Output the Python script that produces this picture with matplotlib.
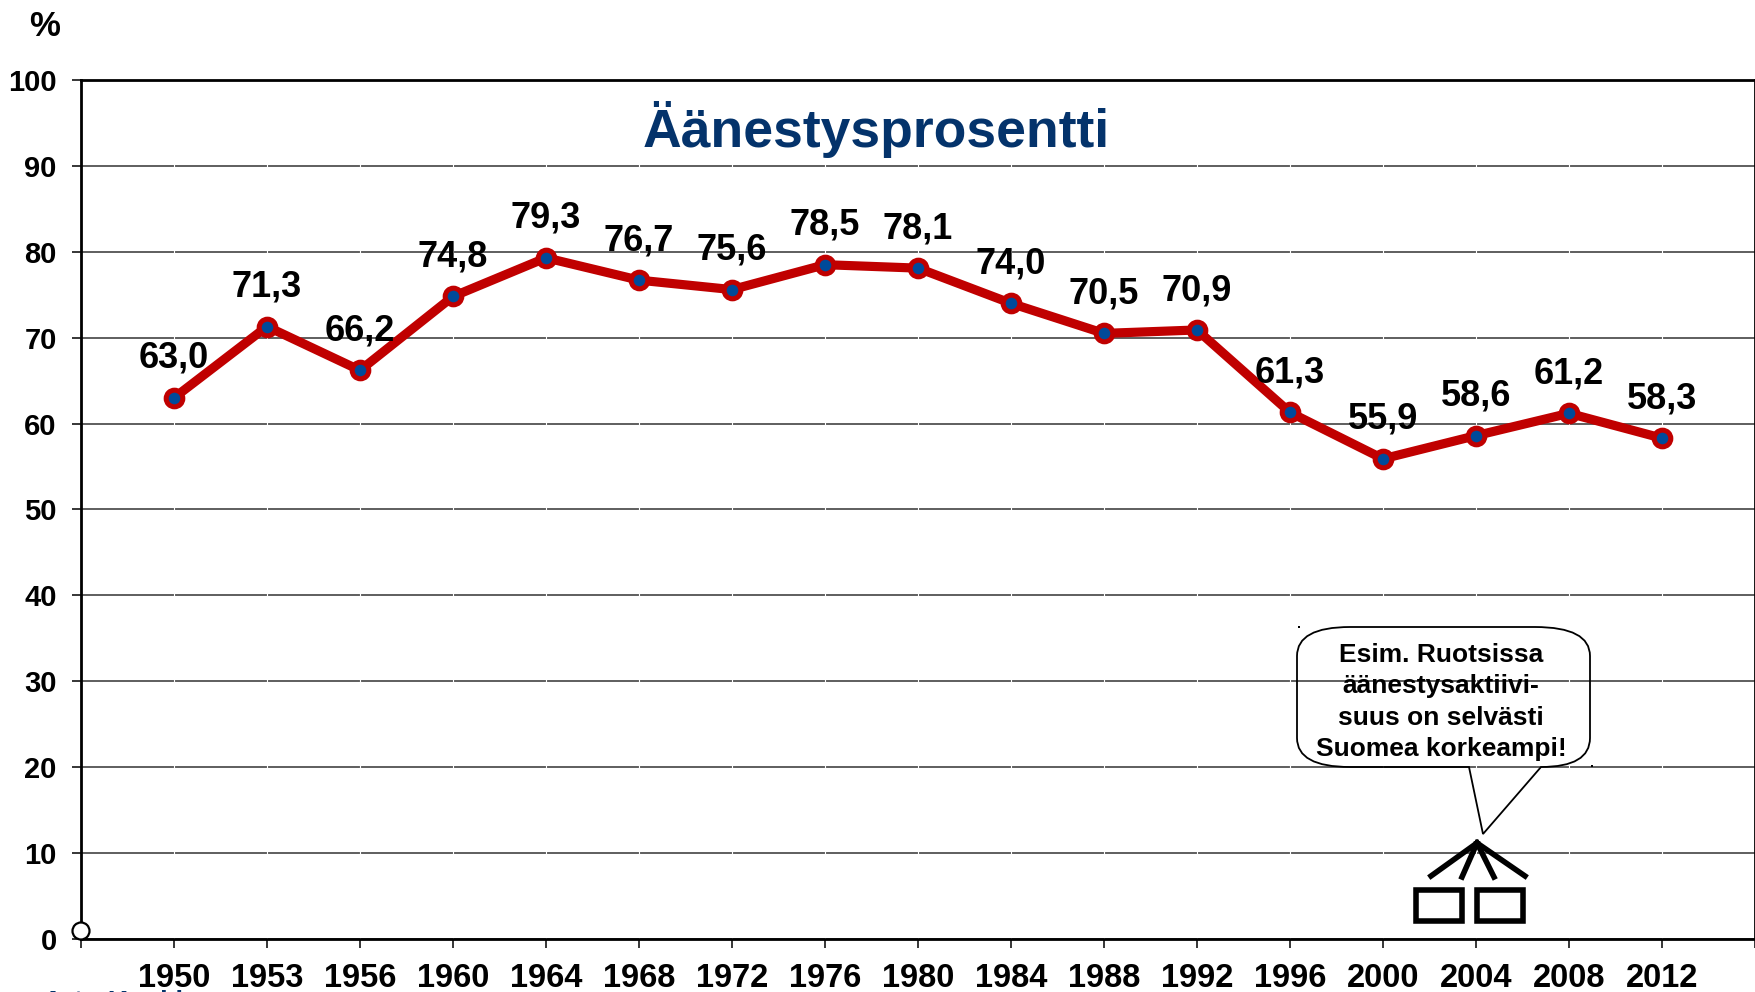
# -*- coding: utf-8 -*-
import matplotlib
matplotlib.use('Agg')
import matplotlib.pyplot as plt
from matplotlib.lines import Line2D
from matplotlib.patches import Ellipse, PathPatch, Rectangle
from matplotlib.path import Path

plt.rcParams['font.family'] = ['Liberation Sans', 'DejaVu Sans']
plt.rcParams['font.weight'] = 'bold'

years = ['1950', '1953', '1956', '1960', '1964', '1968', '1972', '1976', '1980',
         '1984', '1988', '1992', '1996', '2000', '2004', '2008', '2012']
turnout = [63.0, 71.3, 66.2, 74.8, 79.3, 76.7, 75.6, 78.5, 78.1,
           74.0, 70.5, 70.9, 61.3, 55.9, 58.6, 61.2, 58.3]
y_ticks = [0, 10, 20, 30, 40, 50, 60, 70, 80, 90, 100]

title = 'Äänestysprosentti'
note = 'Esim. Ruotsissa\näänestysaktiivi-\nsuus on selvästi\nSuomea korkeampi!'
author = 'Arto Koskinen'

W, H = 1756, 992
RED = '#C00000'
BLUE = '#004A9A'
NAVY = '#04336B'


def px(x, y):
    # reference pixels (origin top left) to figure fraction
    return x / W, 1 - y / H


fig = plt.figure(figsize=(W / 100, H / 100), dpi=100)
ax = fig.add_axes([81 / W, 1 - 939 / H, (1755 - 81) / W, (939 - 80) / H])

positions = list(range(len(years)))
ax.set_xlim(-1, len(years))
ax.set_ylim(0, 100)

# gridlines have small white breaks at each x tick
ax.set_yticks(y_ticks)
ax.grid(axis='y', color='#333333', lw=1.1, zorder=1)
ax.set_axisbelow(True)
ax.vlines(range(-1, len(years) + 1), 0, 100, color='white', lw=0.8, zorder=1.5)

ax.plot(positions, turnout, color=RED, lw=6.6, marker='o', ms=12, mfc=BLUE,
        mec=RED, mew=3.6, zorder=3, solid_joinstyle='miter')

for pos, val in zip(positions, turnout):
    ax.annotate('{0:.1f}'.format(val).replace('.', ','), (pos, val),
                xytext=(0, 21.5), textcoords='offset points', ha='center',
                va='baseline', fontsize=26, color='black', zorder=4)

ax.set_xticks([-1] + positions + [len(years)])
ax.set_xticklabels([''] + years + [''], fontsize=23.5)
ax.tick_params(axis='x', length=6.5, width=1.1, pad=10.5)
ax.tick_params(axis='y', length=6.5, width=1.1, pad=11, labelsize=21)
for label in ax.get_xticklabels() + ax.get_yticklabels():
    label.set_fontweight('bold')

for spine in ax.spines.values():
    spine.set_linewidth(2)

x, y = px(876, 147)
fig.text(x, y, title, fontsize=38.5, color=NAVY, ha='center', va='baseline')
x, y = px(45, 36)
fig.text(x, y, '%', fontsize=25, ha='center', va='baseline')
# the reference crops this line at its lower edge
x, y = px(43, 1010)
fig.text(x, y, author, fontsize=20, color=NAVY, ha='left', va='baseline')

# hollow circle on the axis corner
fig.add_artist(Ellipse(px(81, 931), 17 / W, 17 / H, transform=fig.transFigure,
                       fc='white', ec='black', lw=1.6, zorder=5))

# speech bubble
bubble = [(1350, 627), (1535, 627),
          (1590, 627), (1590, 656), (1590, 660),
          (1590, 738),
          (1590, 767), (1541, 767),
          (1483, 834), (1469, 767),
          (1350, 767),
          (1297, 767), (1297, 738),
          (1297, 656),
          (1297, 627), (1350, 627), (1350, 627)]
codes = [Path.MOVETO, Path.LINETO,
         Path.CURVE3, Path.CURVE3, Path.LINETO,
         Path.LINETO,
         Path.CURVE3, Path.CURVE3,
         Path.LINETO, Path.LINETO,
         Path.LINETO,
         Path.CURVE3, Path.CURVE3,
         Path.LINETO,
         Path.CURVE3, Path.CURVE3, Path.CLOSEPOLY]
fig.add_artist(PathPatch(Path([px(*p) for p in bubble], codes),
                         transform=fig.transFigure, fc='none', ec='black', lw=1.3))
x, y = px(1441, 702)
fig.text(x, y, note, fontsize=19, ha='center', va='center', linespacing=1.39)

# stray specks by the bubble corners
for sx, sy in [(1298, 628), (1591, 767)]:
    fig.add_artist(Rectangle(px(sx, sy), 2 / W, 2 / H, transform=fig.transFigure,
                             fc='black', ec='none'))

# ballot box icon
for bx in [1414, 1475]:
    x0, y0 = px(bx + 2.5, 920.5)
    fig.add_artist(Rectangle((x0, y0), 46 / W, 31 / H, transform=fig.transFigure,
                             fc='none', ec='black', lw=4))
for tx, ty in [(1431, 876), (1462, 877), (1494, 877), (1525, 876)]:
    (x0, y0), (x1, y1) = px(1477, 843), px(tx, ty)
    fig.add_artist(Line2D([x0, x1], [y0, y1], color='black', lw=4,
                          transform=fig.transFigure))

fig.savefig('out.png', dpi=100)
